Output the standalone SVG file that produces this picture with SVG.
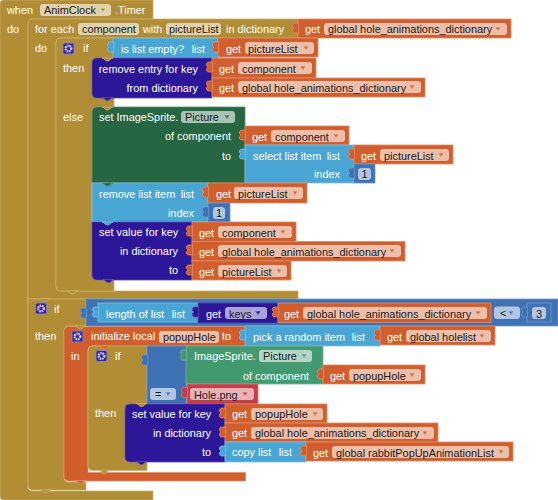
<svg xmlns="http://www.w3.org/2000/svg" width="558" height="500" viewBox="0 0 558 500">
<style>
text{font-family:"Liberation Sans",Arial,sans-serif;font-size:10.9px}
.w{fill:#fff}.e{fill:#fff;text-anchor:end}.k{fill:#1a1a1a}.c{fill:#1a1a1a;text-anchor:middle}
.f{fill:#fff;fill-opacity:.6;stroke:none}
.t{stroke:none}
.gold{fill:#B18E35;stroke:#C9B06E;stroke-width:.8}
.ind{fill:#2D1799;stroke:#5A48B0;stroke-width:.8}
.org{fill:#D05F2D;stroke:#E08D68;stroke-width:.8}
.lst{fill:#49A6D4;stroke:#80C2E2;stroke-width:.8}
.mth{fill:#3F71B5;stroke:#7198CC;stroke-width:.8}
.dgr{fill:#266643;stroke:#5C8C72;stroke-width:.8}
.lgr{fill:#439970;stroke:#74B596;stroke-width:.8}
.red{fill:#C43E47;stroke:#D97379;stroke-width:.8}
.gear{fill:#3A2A9E;stroke:#8F84CC;stroke-width:.8}
.cog{fill:none;stroke:#E6DFF5;stroke-width:2.2;stroke-dasharray:1.4 .9}
</style>
<defs>
<path id="tab" d="M.6,4 C-2,4 -5.5,3.5 -5.5,6 V7.5 L-4,9 L-5.5,10.5 V12 C-5.5,14.5 -2,14 .6,14 Z"/>
<path id="notch" d="M0,0 C2.5,0 2.5,3 5.5,3 C8.5,3 8.5,0 11,0 Z"/>
<path id="arr" d="M-2,-1.5 H2 L0,1.5 Z"/>
<g id="gearicon"><rect class="gear" x="-5.5" y="-5.5" width="11" height="11" rx="1.5"/><circle class="cog" r="2.8"/></g>
</defs>

<g id="when">
<path class="gold" d="M0,4 Q0,0 4,0 H153 V19 H33 Q28,19 28,24 V487 Q28,491 33,491 H153 V500 H4 Q0,500 0,496 Z"/>
<text class="w" x="7" y="14">when</text><rect class="f" x="40" y="4" width="71" height="12" rx="3"/><text class="k" x="44" y="14">AnimClock</text><use href="#arr" class="gold t" x="103" y="10"/><text class="w" x="115" y="14">.Timer</text>
<text class="w" x="7" y="33">do</text>
</g>

<g id="foreach">
<path class="gold" d="M28,24 Q28,19 33,19 H298 V38 H60 Q56,38 56,43 V286 Q56,291 61,291 H298 V299 H28 Z"/>
<use href="#notch" class="gold" x="40" y="299"/>
<text class="w" x="35" y="33">for each</text><rect class="f" x="78" y="23" width="61" height="12" rx="3"/><text class="k" x="82" y="33">component</text>
<text class="w" x="143" y="33">with</text><rect class="f" x="166" y="23" width="55" height="12" rx="3"/><text class="k" x="169" y="33">pictureList</text>
<text class="w" x="226" y="33">in dictionary</text><text class="w" x="35" y="52">do</text>
</g>
<g id="get-dict-1"><rect class="org" x="298" y="19" width="213" height="19"/><use href="#tab" class="org t" x="298" y="19"/><text class="w" x="305" y="33">get</text><rect class="f" x="324" y="23" width="183" height="12" rx="3"/><text class="k" x="328" y="33">global hole_animations_dictionary</text><use href="#arr" class="org t" x="498" y="29"/></g>

<g id="if-empty">
<path class="gold" d="M56,43 Q56,38 61,38 H114 V58 H97 Q92,58 92,63 V92 Q92,97 97,97 H114 V107 H97 Q92,107 92,112 V275 Q92,280 97,280 H114 V291 H61 Q56,291 56,286 Z"/>
<use href="#notch" class="gold" x="67" y="291"/>
<use href="#gearicon" x="68.5" y="48.5"/><text class="w" x="83" y="52">if</text>
<text class="w" x="63" y="72">then</text><text class="w" x="63" y="121">else</text>
</g>
<g id="is-list-empty"><rect class="lst" x="113" y="38" width="105" height="20"/><use href="#tab" class="lst t" x="113" y="38"/><text class="w" x="121" y="53">is list empty?</text><text class="e" x="205" y="53">list</text></g>
<g id="get-pl-1"><rect class="org" x="218" y="38" width="100" height="19"/><use href="#tab" class="org t" x="218" y="38"/><text class="w" x="226" y="53">get</text><rect class="f" x="245" y="42" width="69" height="12" rx="3"/><text class="k" x="248" y="53">pictureList</text><use href="#arr" class="org t" x="306" y="48"/></g>

<g id="remove-entry"><path class="ind" d="M97,58 H212 V98 H97 Q92,98 92,93 V63 Q92,58 97,58 Z"/><use href="#notch" class="gold t" x="102" y="58"/><use href="#notch" class="ind t" x="102" y="97.5"/><text class="e" x="198" y="73">remove entry for key</text><text class="e" x="198" y="92">from dictionary</text></g>
<g id="get-comp-1"><rect class="org" x="212" y="58" width="104" height="20"/><use href="#tab" class="org t" x="212" y="58"/><text class="w" x="219" y="73">get</text><rect class="f" x="238" y="62" width="74" height="12" rx="3"/><text class="k" x="242" y="73">component</text><use href="#arr" class="org t" x="303" y="68"/></g>
<g id="get-dict-2"><rect class="org" x="212" y="78" width="213" height="19"/><use href="#tab" class="org t" x="212" y="77"/><text class="w" x="219" y="92">get</text><rect class="f" x="238" y="81" width="183" height="12" rx="3"/><text class="k" x="242" y="92">global hole_animations_dictionary</text><use href="#arr" class="org t" x="412" y="87"/></g>

<g id="set-picture"><path class="dgr" d="M97,107 H245 V183 H92 V112 Q92,107 97,107 Z"/><use href="#notch" class="gold t" x="102" y="107"/><use href="#notch" class="dgr t" x="102" y="183"/><text class="w" x="99" y="121">set ImageSprite.</text><rect class="f" x="181" y="111" width="54" height="12" rx="3"/><text class="k" x="185" y="121">Picture</text><use href="#arr" class="dgr t" x="227" y="117"/><text class="e" x="231" y="140">of component</text><text class="e" x="231" y="160">to</text></g>
<g id="get-comp-2"><rect class="org" x="245" y="126" width="104" height="19"/><use href="#tab" class="org t" x="245" y="126"/><text class="w" x="252" y="141">get</text><rect class="f" x="271" y="130" width="74" height="12" rx="3"/><text class="k" x="275" y="141">component</text><use href="#arr" class="org t" x="336" y="136"/></g>
<g id="select-item"><rect class="lst" x="245" y="145" width="109" height="38"/><use href="#tab" class="lst t" x="245" y="145"/><text class="w" x="253" y="160">select list item</text><text class="e" x="340" y="160">list</text><text class="e" x="340" y="178">index</text></g>
<g id="get-pl-2"><rect class="org" x="354" y="145" width="99" height="19"/><use href="#tab" class="org t" x="354" y="145"/><text class="w" x="361" y="160">get</text><rect class="f" x="380" y="149" width="69" height="12" rx="3"/><text class="k" x="384" y="160">pictureList</text><use href="#arr" class="org t" x="441" y="155"/></g>
<g id="num-1a"><rect class="mth" x="354" y="164" width="21" height="19"/><use href="#tab" class="mth t" x="354" y="164"/><rect class="f" x="358" y="168" width="13" height="12" rx="3"/><text class="c" x="364.5" y="178">1</text></g>

<g id="remove-item"><rect class="lst" x="92" y="183" width="116" height="39"/><use href="#notch" class="dgr t" x="102" y="183"/><use href="#notch" class="lst t" x="102" y="222"/><text class="w" x="99" y="198">remove list item</text><text class="e" x="194" y="198">list</text><text class="e" x="194" y="217">index</text></g>
<g id="get-pl-3"><rect class="org" x="208" y="183" width="99" height="20"/><use href="#tab" class="org t" x="208" y="183"/><text class="w" x="216" y="198">get</text><rect class="f" x="234" y="187" width="69" height="12" rx="3"/><text class="k" x="238" y="198">pictureList</text><use href="#arr" class="org t" x="295" y="193"/></g>
<g id="num-1b"><rect class="mth" x="208" y="203" width="22" height="19"/><use href="#tab" class="mth t" x="208" y="203"/><rect class="f" x="213" y="207" width="12" height="12" rx="3"/><text class="c" x="219" y="217">1</text></g>

<g id="set-value-1"><path class="ind" d="M92,222 H192 V280 H97 Q92,280 92,275 Z"/><use href="#notch" class="lst t" x="102" y="222"/><use href="#notch" class="ind t" x="103" y="279.5"/><text class="w" x="99" y="236">set value for key</text><text class="e" x="178" y="255">in dictionary</text><text class="e" x="178" y="274">to</text></g>
<g id="get-comp-3"><rect class="org" x="192" y="222" width="104" height="19.5"/><use href="#tab" class="org t" x="192" y="222"/><text class="w" x="199" y="237">get</text><rect class="f" x="218" y="226" width="74" height="12" rx="3"/><text class="k" x="222" y="237">component</text><use href="#arr" class="org t" x="283" y="232"/></g>
<g id="get-dict-3"><rect class="org" x="192" y="241.500" width="213" height="19.5"/><use href="#tab" class="org t" x="192" y="241"/><text class="w" x="199" y="256">get</text><rect class="f" x="218" y="245" width="183" height="12" rx="3"/><text class="k" x="222" y="256">global hole_animations_dictionary</text><use href="#arr" class="org t" x="392" y="251"/></g>
<g id="get-pl-4"><rect class="org" x="192" y="261" width="99" height="19"/><use href="#tab" class="org t" x="192" y="261"/><text class="w" x="199" y="276">get</text><rect class="f" x="218" y="265" width="69" height="12" rx="3"/><text class="k" x="222" y="276">pictureList</text><use href="#arr" class="org t" x="279" y="271"/></g>

<g id="if-length">
<path class="gold" d="M28,299 H86 V326 H69 Q64,326 64,331 V477 Q64,482 69,482 H86 V490 H33 Q28,490 28,485 Z"/>
<use href="#notch" class="gold" x="40" y="490"/>
<use href="#notch" class="gold t" x="40" y="298.500"/>
<use href="#gearicon" x="41" y="308.500"/><text class="w" x="54" y="313">if</text><text class="w" x="35" y="340">then</text>
</g>
<g id="compare"><rect class="mth" x="86" y="299" width="472" height="27"/><use href="#tab" class="mth t" x="86" y="304"/><rect class="f" x="494" y="306.500" width="26" height="12.500" rx="3"/><text class="k" x="500" y="317">&lt;</text><use href="#arr" class="mth t" x="511" y="313"/></g>
<g id="length"><rect class="lst" x="98" y="303" width="100" height="19"/><use href="#tab" class="lst t" x="98" y="303"/><text class="w" x="106" y="318">length of list</text><text class="e" x="185" y="318">list</text></g>
<g id="get-keys"><rect class="ind" x="198" y="303" width="80" height="20"/><use href="#tab" class="ind t" x="198" y="303"/><text class="w" x="206" y="318">get</text><rect class="f" x="225" y="307" width="42" height="12" rx="3"/><text class="k" x="229" y="318">keys</text><use href="#arr" class="ind t" x="258" y="313"/></g>
<g id="get-dict-4"><rect class="org" x="278" y="303" width="213" height="19.500"/><use href="#tab" class="org t" x="278" y="303"/><text class="w" x="284" y="318">get</text><rect class="f" x="303" y="307" width="184" height="12" rx="3"/><text class="k" x="307" y="318">global hole_animations_dictionary</text><use href="#arr" class="org t" x="478" y="313"/></g>
<g id="num-3"><rect class="mth" x="527" y="303" width="24" height="19"/><use href="#tab" class="mth" x="527" y="303"/><rect class="f" x="532" y="307" width="14" height="12" rx="3"/><text class="c" x="539" y="318">3</text></g>

<g id="init-local">
<path class="org" d="M69,326.500 H245.500 V346 H92 Q88,346 88,350 V472.500 H245.500 V481 H69 Q64,481 64,476 V331.500 Q64,326.500 69,326.500 Z"/>
<use href="#notch" class="org t" x="75" y="480.500"/>
<use href="#notch" class="gold t" x="75" y="326"/>
<use href="#gearicon" x="77.500" y="336.500"/><text class="w" x="91" y="340">initialize local</text><rect class="f" x="159" y="331" width="60" height="12" rx="3"/><text class="k" x="163" y="341">popupHole</text><text class="w" x="222" y="340">to</text><text class="w" x="71" y="360">in</text>
</g>
<g id="pick-random"><rect class="lst" x="245" y="326" width="135" height="20"/><use href="#tab" class="lst t" x="245" y="326"/><text class="w" x="253" y="341">pick a random item</text><text class="e" x="365" y="341">list</text></g>
<g id="get-holelist"><rect class="org" x="380" y="326" width="115" height="19"/><use href="#tab" class="org t" x="380" y="326"/><text class="w" x="387" y="341">get</text><rect class="f" x="406" y="330" width="85" height="12" rx="3"/><text class="k" x="410" y="341">global holelist</text><use href="#arr" class="org t" x="482" y="336"/></g>

<g id="if-hole">
<path class="gold" d="M93,346 H147 V404 H130 Q125,404 125,409 V457 Q125,462 130,462 H147 V470.500 H93 Q88,470.500 88,465.500 V351 Q88,346 93,346 Z"/>
<use href="#notch" class="org t" x="99" y="346"/>
<use href="#notch" class="gold t" x="99" y="470.300"/>
<use href="#gearicon" x="101.500" y="356"/><text class="w" x="115" y="360">if</text><text class="w" x="95" y="417">then</text>
</g>
<g id="equals"><rect class="mth" x="147" y="346" width="39.500" height="58"/><use href="#tab" class="mth t" x="147" y="351"/><rect class="f" x="150" y="388" width="26" height="12" rx="3"/><text class="k" x="155" y="398">=</text><use href="#arr" class="mth t" x="168" y="394"/></g>
<g id="get-picture"><rect class="lgr" x="186" y="346" width="137" height="38"/><use href="#tab" class="lgr t" x="186" y="346"/><text class="w" x="194" y="360">ImageSprite.</text><rect class="f" x="259" y="350" width="53" height="12" rx="3"/><text class="k" x="263" y="360">Picture</text><use href="#arr" class="lgr t" x="304" y="356"/><text class="e" x="309" y="380">of component</text></g>
<g id="get-popup-1"><rect class="org" x="323" y="365" width="102" height="19"/><use href="#tab" class="org t" x="323" y="365"/><text class="w" x="330" y="380">get</text><rect class="f" x="349" y="369" width="72" height="12" rx="3"/><text class="k" x="353" y="380">popupHole</text><use href="#arr" class="org t" x="412" y="375"/></g>
<g id="hole-png"><rect class="red" x="187" y="384" width="71" height="20"/><use href="#tab" class="red t" x="187" y="383.500"/><rect class="f" x="190" y="388" width="64" height="12" rx="3"/><text class="k" x="194" y="399">Hole.png</text><use href="#arr" class="red t" x="245" y="394"/></g>

<g id="set-value-2"><path class="ind" d="M130,404 H225 V462 H130 Q125,462 125,457 V409 Q125,404 130,404 Z"/><use href="#notch" class="gold t" x="136" y="403.500"/><use href="#notch" class="ind t" x="136" y="461.500"/><text class="w" x="132" y="418">set value for key</text><text class="e" x="211" y="437">in dictionary</text><text class="e" x="211" y="456">to</text></g>
<g id="get-popup-2"><rect class="org" x="225" y="404" width="102" height="19"/><use href="#tab" class="org t" x="225" y="404"/><text class="w" x="232" y="418">get</text><rect class="f" x="251" y="408" width="72" height="12" rx="3"/><text class="k" x="255" y="418">popupHole</text><use href="#arr" class="org t" x="315" y="414"/></g>
<g id="get-dict-5"><rect class="org" x="225" y="423" width="213" height="19"/><use href="#tab" class="org t" x="225" y="423"/><text class="w" x="232" y="437">get</text><rect class="f" x="251" y="427" width="183" height="12" rx="3"/><text class="k" x="255" y="437">global hole_animations_dictionary</text><use href="#arr" class="org t" x="425" y="433"/></g>
<g id="copy-list"><rect class="lst" x="225" y="442" width="81" height="20"/><use href="#tab" class="lst t" x="225" y="442"/><text class="w" x="232" y="456">copy list</text><text class="e" x="292" y="456">list</text></g>
<g id="get-rabbit"><rect class="org" x="306" y="442" width="207" height="19"/><use href="#tab" class="org t" x="306" y="442"/><text class="w" x="313" y="457">get</text><rect class="f" x="332" y="446" width="177" height="12" rx="3"/><text class="k" x="336" y="457">global rabbitPopUpAnimationList</text><use href="#arr" class="org t" x="501" y="452"/></g>
</svg>
